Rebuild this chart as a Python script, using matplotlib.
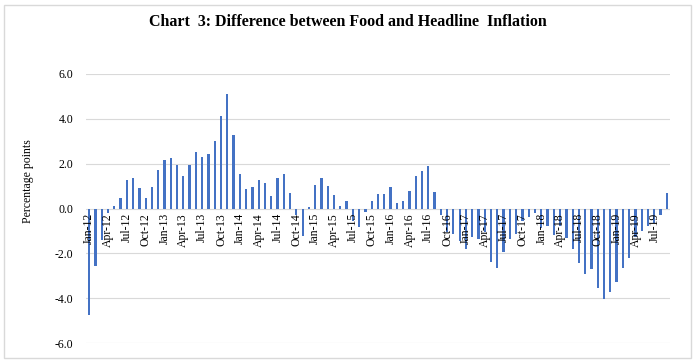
import matplotlib.pyplot as plt
import matplotlib.patches as mpatches
import pandas as pd

plt.rcParams['font.family'] = ['Liberation Serif', 'DejaVu Serif']

# monthly difference, food minus headline inflation (percentage points), Jan-12 .. Sep-19
diff = [
    -4.73, -2.55, -1.40, -0.20, 0.13, 0.45, 1.28, 1.38, 0.90, 0.45, 0.95, 1.73,   # 2012
    2.17, 2.26, 1.96, 1.46, 1.92, 2.54, 2.30, 2.42, 3.02, 4.12, 5.12, 3.27,       # 2013
    1.55, 0.88, 0.95, 1.29, 1.12, 0.54, 1.34, 1.53, 0.70, -0.30, -1.24, 0.05,     # 2014
    1.07, 1.38, 1.00, 0.58, 0.12, 0.33, -0.54, -0.83, -0.14, 0.35, 0.66, 0.66,    # 2015
    0.95, 0.25, 0.33, 0.78, 1.43, 1.67, 1.88, 0.74, -0.30, -1.03, -1.13, -1.45,   # 2016
    -1.82, -1.25, -1.36, -1.05, -2.40, -2.66, -1.95, -1.35, -1.13, -0.54, -0.39, -0.21,  # 2017
    -0.86, -0.76, -1.20, -0.80, -1.31, -1.80, -2.44, -2.92, -2.69, -3.54, -4.03, -3.73,  # 2018
    -3.29, -2.65, -2.22, -1.27, -1.00, -0.79, -0.63, -0.31, 0.70,                  # 2019
]
months = list(pd.date_range('2012-01-01', periods=len(diff), freq='MS').strftime('%b-%y'))
yticks = [-6.0, -4.0, -2.0, 0.0, 2.0, 4.0, 6.0]

fig = plt.figure(figsize=(6.96, 3.63), dpi=100)
ax = fig.add_axes([86 / 696, 1 - 343 / 363, 584 / 696, 269 / 363])

x = list(range(len(diff)))
ax.bar(x, diff, width=0.36, color='#4472C4', zorder=3)

ax.set_xlim(-0.5, len(diff) - 0.5)
ax.set_ylim(-6, 6)
ax.set_yticks(yticks)
ax.set_yticklabels([f'{v:.1f}' for v in yticks], fontsize=8.5)
ax.yaxis.grid(True, color='#d9d9d9', lw=0.8, zorder=0)
ax.set_xticks([])
ax.tick_params(axis='y', length=0, pad=9)
for s in ax.spines.values():
    s.set_visible(False)

# category labels sit just under the zero line, every third month
for i in range(0, len(diff), 3):
    ax.text(i, -0.2, months[i], rotation=90, ha='center', va='top', fontsize=8.5, zorder=4)

fig.text(28 / 696, 1 - 181 / 363, 'Percentage points', rotation=90,
         ha='center', va='center', fontsize=8.5)

fig.text(0.5, 1 - 22 / 363, 'Chart  3: Difference between Food and Headline  Inflation',
         ha='center', va='center', fontsize=11.5, fontweight='bold')

fig.patches.append(mpatches.Rectangle((4 / 696, 5 / 363), 687 / 696, 353 / 363,
                                      transform=fig.transFigure, fill=False,
                                      edgecolor='#d9d9d9', lw=1))

fig.savefig('out.png', dpi=100)
